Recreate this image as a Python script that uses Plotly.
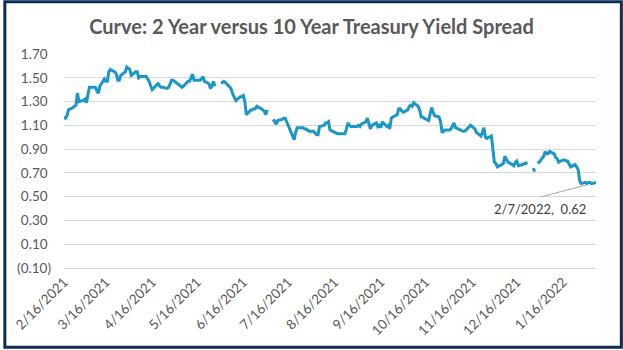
import pandas as pd
import plotly.graph_objects as go

TITLE = "Curve: 2 Year versus 10 Year Treasury Yield Spread"

# Daily spread (business days), None = missing value (gap in line)
feb21 = [1.17, 1.16, 1.18, 1.23, 1.25, 1.26, 1.27, 1.37, 1.30]
mar21 = [1.31, 1.32, 1.29, 1.36, 1.42, 1.42, 1.42, 1.39, 1.37, 1.43, 1.49, 1.47, 1.47, 1.55, 1.57,
         1.55, 1.53, 1.48, 1.48, 1.52, 1.55, 1.59, 1.58]
apr21 = [1.57, 1.52, 1.55, 1.55, 1.50, 1.51, 1.51, 1.51, 1.49, 1.47, 1.43, 1.40, 1.44, 1.45, 1.43,
         1.42, 1.42, 1.41, 1.42, 1.46, 1.48, 1.48]
may21 = [1.45, 1.44, 1.43, 1.42, 1.43, 1.47, 1.47, 1.50, 1.53, 1.48, 1.48, 1.48, 1.49, 1.51, 1.47,
         1.45, 1.41, 1.43, 1.47, 1.43, None]
jun21 = [1.46, 1.46, 1.47, 1.46, 1.42, 1.40, 1.36, 1.33, 1.31, 1.34, 1.34, 1.35, 1.30, 1.19, 1.23,
         1.23, 1.24, 1.24, 1.26, 1.24, 1.23, 1.22]
jul21 = [1.19, 1.23, None, 1.15, 1.13, 1.11, 1.14, 1.15, 1.16, 1.16, 1.13, 1.10, 1.00, 0.98, 1.04,
         1.08, 1.08, 1.08, 1.07, 1.07, 1.06, 1.05]
aug21 = [1.05, 1.03, 1.02, 1.02, 1.09, 1.10, 1.12, 1.12, 1.13, 1.06, 1.04, 1.04, 1.03, 1.03, 1.03,
         1.03, 1.07, 1.12, 1.10, 1.09, 1.09, 1.09]
sep21 = [1.10, 1.09, 1.11, 1.13, 1.16, 1.12, 1.07, 1.10, 1.12, 1.09, 1.10, 1.08, 1.13, 1.09, 1.10,
         1.07, 1.16, 1.17, 1.19, 1.24, 1.24, 1.22]
oct21 = [1.21, 1.23, 1.26, 1.27, 1.26, 1.29, 1.26, 1.23, 1.17, 1.17, 1.16, 1.14, 1.21, 1.25, 1.21,
         1.18, 1.17, 1.13, 1.04, 1.05, 1.06]
nov21 = [1.06, 1.07, 1.10, 1.12, 1.08, 1.06, 1.05, 1.05, 1.05, 1.06, 1.10, 1.09, 1.08, 1.07, 1.04,
         1.01, 1.04, 1.08, 1.00, 0.99, 1.01, 0.90]
dec21 = [0.79, 0.78, 0.75, 0.77, 0.78, 0.84, 0.82, 0.79, 0.77, 0.76, 0.79, 0.80, 0.76, 0.77, 0.78,
         0.78, 0.79, None, 0.74, 0.71, None, 0.78, 0.79]
jan22 = [0.84, 0.88, 0.86, 0.86, 0.88, 0.86, 0.83, 0.82, 0.79, 0.80, 0.81, 0.80, 0.80, 0.77, 0.75,
         0.77, 0.75, 0.73, 0.64, 0.61, 0.62]
feb22 = [0.61, 0.62, 0.62, 0.61, 0.62]

months = [
    ("2021-02-16", "2021-02-28", feb21), ("2021-03-01", "2021-03-31", mar21),
    ("2021-04-01", "2021-04-30", apr21), ("2021-05-01", "2021-05-31", may21),
    ("2021-06-01", "2021-06-30", jun21), ("2021-07-01", "2021-07-31", jul21),
    ("2021-08-01", "2021-08-31", aug21), ("2021-09-01", "2021-09-30", sep21),
    ("2021-10-01", "2021-10-31", oct21), ("2021-11-01", "2021-11-30", nov21),
    ("2021-12-01", "2021-12-31", dec21), ("2022-01-01", "2022-01-31", jan22),
    ("2022-02-01", "2022-02-07", feb22),
]

dates, values = [], []
for start, end, vals in months:
    d = pd.bdate_range(start, end)
    assert len(d) == len(vals), (start, len(d), len(vals))
    dates.extend(d)
    values.extend(vals)

x_tick_vals = ["2021-02-16", "2021-03-16", "2021-04-16", "2021-05-16", "2021-06-16", "2021-07-16",
               "2021-08-16", "2021-09-16", "2021-10-16", "2021-11-16", "2021-12-16", "2022-01-16"]
x_tick_text = ["2/16/2021", "3/16/2021", "4/16/2021", "5/16/2021", "6/16/2021", "7/16/2021",
               "8/16/2021", "9/16/2021", "10/16/2021", "11/16/2021", "12/16/2021", "1/16/2022"]
y_tick_vals = [-0.10, 0.10, 0.30, 0.50, 0.70, 0.90, 1.10, 1.30, 1.50, 1.70]
y_tick_text = ["(0.10)", "0.10\u00a0", "0.30\u00a0", "0.50\u00a0", "0.70\u00a0", "0.90\u00a0",
               "1.10\u00a0", "1.30\u00a0", "1.50\u00a0", "1.70\u00a0"]

last_label = "2/7/2022,\u00a0 0.62"

W, H = 623, 350
L, R, T, B = 61, 27, 54, 81
PW, PH = W - L - R, H - T - B

FONT = "Lato, 'Open Sans', sans-serif"
GRAY = "#595959"
LINE = "#1a96c9"

fig = go.Figure()
fig.add_trace(go.Scatter(x=dates, y=values, mode="lines", connectgaps=False,
                         line=dict(color=LINE, width=3), hoverinfo="skip"))

fig.update_layout(
    width=W, height=H,
    margin=dict(l=L, r=R, t=T, b=B),
    paper_bgcolor="white", plot_bgcolor="white",
    showlegend=False,
    title=dict(text=f"<b>{TITLE}</b>", x=0.5, xref="container", xanchor="center",
               y=1 - 27 / H, yref="container", yanchor="middle",
               font=dict(family=FONT, size=20, color=GRAY)),
    font=dict(family=FONT, size=13, color=GRAY),
)
fig.update_xaxes(type="date", range=[dates[0], dates[-1]],
                 tickmode="array", tickvals=x_tick_vals, ticktext=x_tick_text,
                 tickangle=-45, showgrid=False, zeroline=False,
                 showline=True, linecolor="#d9d9d9", linewidth=1,
                 tickfont=dict(family=FONT, size=13.5, color=GRAY))
fig.update_yaxes(range=[-0.10, 1.70], tickmode="array", tickvals=y_tick_vals, ticktext=y_tick_text,
                 showgrid=True, gridcolor="#d9d9d9", gridwidth=1, zeroline=False,
                 ticks="", ticklabelstandoff=12,
                 tickfont=dict(family=FONT, size=13.5, color=GRAY))

# leader line to last point
fig.add_annotation(x=dates[-1], y=values[-1], text="", showarrow=True, arrowhead=0,
                   arrowwidth=1, arrowcolor="#a6a6a6", ax=-57, ay=15, standoff=10)
fig.add_annotation(x=dates[-1], y=values[-1], text=last_label, showarrow=False,
                   xshift=-56, yshift=-27, font=dict(family=FONT, size=13, color="#404040"))

# outer navy frame
bw = 3
fig.add_shape(type="rect", xref="paper", yref="paper",
              x0=(bw / 2 - L) / PW, x1=(W - bw / 2 - L) / PW,
              y0=(bw / 2 - B) / PH, y1=(H - bw / 2 - B) / PH,
              line=dict(color="#0c2d55", width=bw), fillcolor="rgba(0,0,0,0)", layer="above")

fig.write_html("out.html")
